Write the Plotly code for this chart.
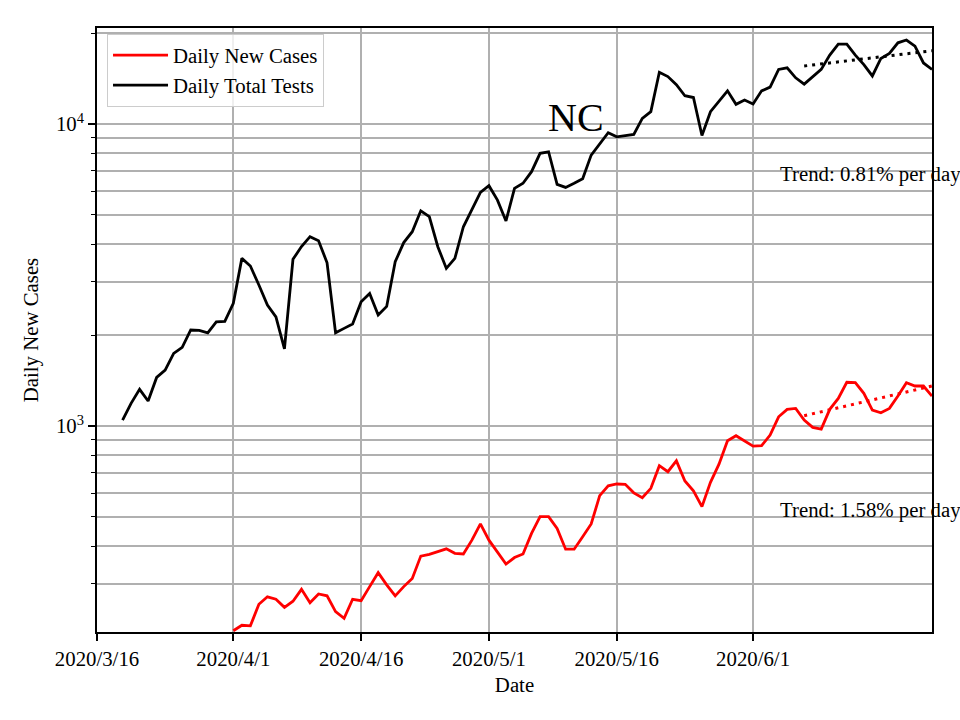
import math
import pandas as pd
import plotly.graph_objects as go

# ---- data ----
tests_start = "2020-03-19"
daily_tests = [
    1046, 1189, 1323, 1210, 1449, 1531, 1741, 1823, 2080, 2075, 2036, 2214, 2220,
    2548, 3591, 3388, 2931, 2515, 2300, 1800, 3565, 3929, 4238, 4110, 3474, 2036,
    2106, 2178, 2579, 2749, 2331, 2490, 3500, 4050, 4400, 5160, 4935, 3926, 3327,
    3590, 4570, 5190, 5940,
    6250, 5600, 4775, 6125, 6365, 6955, 8000, 8095, 6315, 6170, 6365, 6590, 7890,
    8590, 9360, 9075, 9150, 9245, 10440, 10990, 14840, 14360, 13500, 12410, 12240,
    9160, 10990, 11920, 12880, 11620, 12010,
    11650, 12880, 13250, 15170, 15360, 14230, 13560, 14350, 15170, 16920, 18390,
    18390, 16920, 15740, 14430, 16490, 17130, 18580, 18980, 18120, 15930, 15170,
]

cases_start = "2020-04-01"
daily_cases = [
    210, 219, 218, 257, 272, 267, 251, 263, 288, 260, 278, 274, 243, 231, 267,
    264, 294, 327, 298, 274, 294, 313, 371, 376, 384, 392, 379, 377, 419, 474,
    419, 382, 349, 367, 377, 441, 501, 501, 458, 391, 391, 430, 474, 588, 634,
    643, 641, 601, 579, 622, 739, 706, 767, 658, 610, 541, 651, 748, 894, 929, 894,
    858, 861, 934, 1073, 1136, 1144, 1047, 990, 977, 1136, 1235, 1396, 1392, 1283,
    1130, 1107, 1144, 1257, 1392, 1357, 1357, 1257,
]

trend_dates = ["2020-06-07", "2020-06-22"]
trend_tests = [15570, 17490]
trend_cases = [1082, 1357]
trend_tests_label = "Trend: 0.81% per day"
trend_cases_label = "Trend: 1.58% per day"

x_tick_dates = ["2020-03-16", "2020-04-01", "2020-04-16", "2020-05-01", "2020-05-16", "2020-06-01"]
x_tick_text = ["2020/3/16", "2020/4/1", "2020/4/16", "2020/5/1", "2020/5/16", "2020/6/1"]
x_range = ["2020-03-16", "2020-06-22"]
y_range = [208, 20800]
y_major = [1000, 10000]
y_major_text = ["10<sup>3</sup>", "10<sup>4</sup>"]
y_minor = [300, 400, 500, 600, 700, 800, 900,
           2000, 3000, 4000, 5000, 6000, 7000, 8000, 9000, 20000]

tests_dates = pd.date_range(tests_start, periods=len(daily_tests), freq="D")
cases_dates = pd.date_range(cases_start, periods=len(daily_cases), freq="D")

FONT = "Liberation Serif, Times New Roman, serif"
FS = 20.8

fig = go.Figure()
fig.add_trace(go.Scatter(x=cases_dates, y=daily_cases, mode="lines", name="Daily New Cases",
                         line=dict(color="red", width=2.8)))
fig.add_trace(go.Scatter(x=tests_dates, y=daily_tests, mode="lines", name="Daily Total Tests",
                         line=dict(color="black", width=2.8)))
fig.add_trace(go.Scatter(x=trend_dates, y=trend_cases, mode="lines", showlegend=False,
                         line=dict(color="red", width=3, dash="3px,5px")))
fig.add_trace(go.Scatter(x=trend_dates, y=trend_tests, mode="lines", showlegend=False,
                         line=dict(color="black", width=3, dash="3px,5px")))

fig.update_layout(
    width=960, height=720,
    margin=dict(l=97, r=28, t=28, b=88),
    paper_bgcolor="white", plot_bgcolor="white",
    font=dict(family=FONT, size=FS, color="black"),
    showlegend=True,
    legend=dict(x=0.012, y=0.99, xanchor="left", yanchor="top", itemwidth=55,
                bgcolor="rgba(255,255,255,0.8)", bordercolor="#cccccc", borderwidth=1,
                font=dict(family=FONT, size=FS, color="black")),
    xaxis=dict(type="date", range=x_range, tickmode="array", tickvals=x_tick_dates,
               ticktext=x_tick_text, ticks="outside", ticklen=7, tickwidth=1.6,
               tickcolor="black", showline=True, mirror=True, linecolor="black",
               linewidth=1.6, showgrid=True, gridcolor="#b0b0b0", gridwidth=1.6,
               zeroline=False, automargin=False,
               title=dict(text="Date", standoff=9,
                          font=dict(family=FONT, size=FS, color="black")),
               tickfont=dict(family=FONT, size=FS, color="black")),
    yaxis=dict(type="log", range=[math.log10(y_range[0]), math.log10(y_range[1])],
               tickmode="array", tickvals=y_major, ticktext=y_major_text,
               ticks="outside", ticklen=7, tickwidth=1.6, tickcolor="black",
               showline=True, mirror=True, linecolor="black", linewidth=1.6,
               showgrid=True, gridcolor="#b0b0b0", gridwidth=1.6, zeroline=False,
               automargin=False,
               minor=dict(tickmode="array", tickvals=y_minor, ticks="outside", ticklen=4,
                          tickwidth=1.2, tickcolor="black", showgrid=True,
                          gridcolor="#b0b0b0", gridwidth=1.6),
               title=dict(text="Daily New Cases", standoff=12,
                          font=dict(family=FONT, size=FS, color="black")),
               tickfont=dict(family=FONT, size=FS, color="black")),
)

fig.add_annotation(text="NC", xref="paper", yref="paper", x=0.5737, y=(632 - 118) / 604,
                   xanchor="center", yanchor="middle", showarrow=False,
                   font=dict(family=FONT, size=40, color="black"))
fig.add_annotation(text=trend_tests_label, xref="paper", yref="paper", x=0.8156,
                   y=(632 - 174) / 604, xanchor="left", yanchor="middle", showarrow=False,
                   font=dict(family=FONT, size=FS, color="black"))
fig.add_annotation(text=trend_cases_label, xref="paper", yref="paper", x=0.8156,
                   y=(632 - 510) / 604, xanchor="left", yanchor="middle", showarrow=False,
                   font=dict(family=FONT, size=FS, color="black"))

fig.write_html("out.html", config={"displayModeBar": False},
               post_script="document.body.style.margin='0';")
